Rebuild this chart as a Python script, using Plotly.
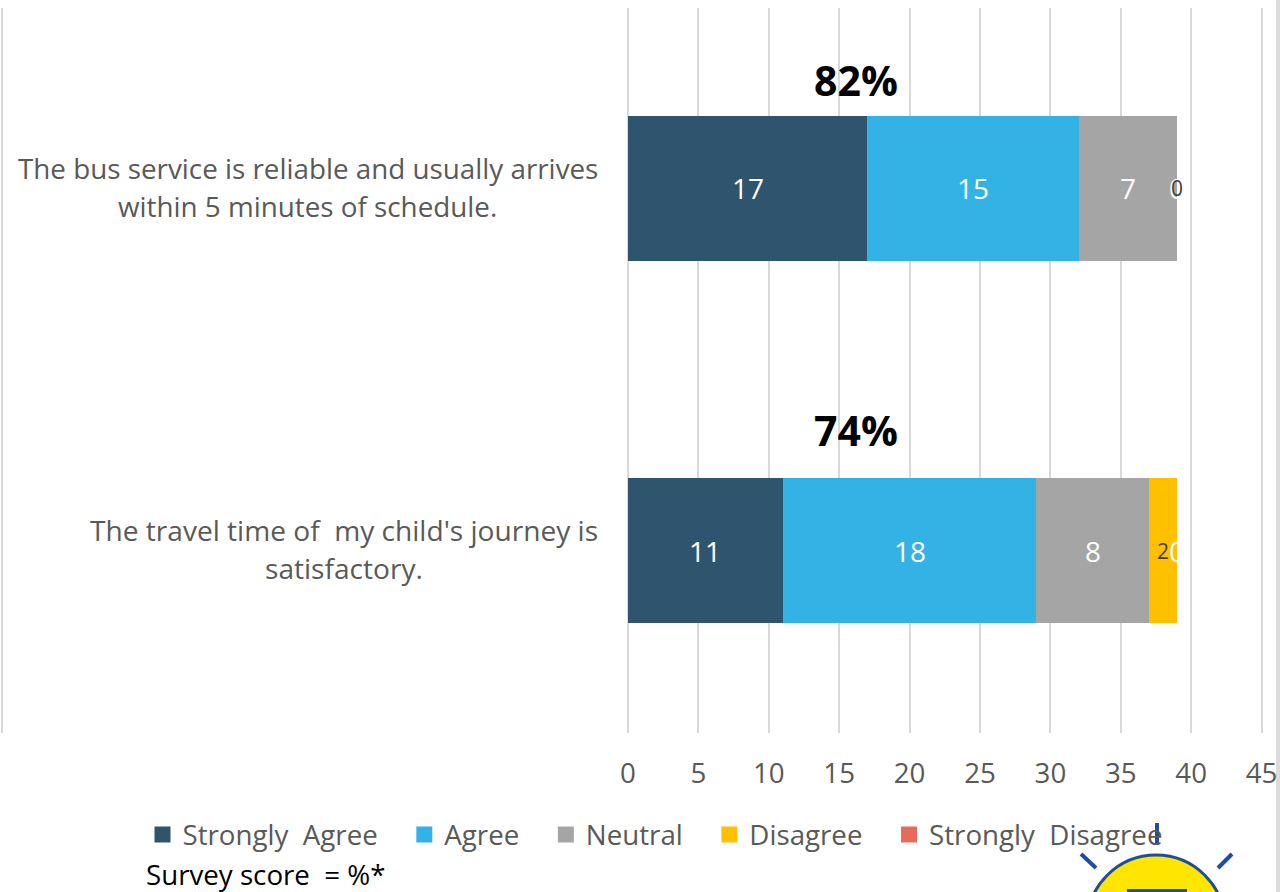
import plotly.graph_objects as go

W, H = 1280, 892
L, R, T, B = 0, 0, 8, 159

categories = [["The travel time of  my child's journey is", "satisfactory."],
              ["The bus service is reliable and usually arrives", "within 5 minutes of schedule."]]
series_names = ["Strongly  Agree", "Agree", "Neutral", "Disagree", "Strongly  Disagree"]
strongly_agree = [11, 17]
agree = [18, 15]
neutral = [8, 7]
disagree = [2, 0]
strongly_disagree = [0, 0]
score_labels = ["74%", "82%"]
colors = ["#2F546D", "#33B2E6", "#A5A5A5", "#FFC000", "#E76A5B"]
label_colors = ["#FFFFFF", "#FFFFFF", "#FFFFFF", "#404040", "#FFFFFF"]
tick_vals = [-44.46, 0, 5, 10, 15, 20, 25, 30, 35, 40, 45]
tick_text = ["50", "0", "5", "10", "15", "20", "25", "30", "35", "40", "45"]

FONT = "Open Sans"
GREY = "#595959"
SIZE = 27.7
series = [strongly_agree, agree, neutral, disagree, strongly_disagree]

fig = go.Figure()
for name, vals, col in zip(series_names, series, colors):
    fig.add_trace(go.Bar(name=name, y=[0, 1], x=vals, orientation="h", showlegend=False,
                         marker=dict(color=col, line=dict(width=0))))
# legend entries with the reference's larger square keys
for name, col in zip(series_names, colors):
    fig.add_trace(go.Scatter(name=name + "\u00a0\u00a0\u00a0", x=[None], y=[None], mode="markers",
                             marker=dict(symbol="square", size=16, color=col)))

annotations = []
# segment value labels: white zero first, dark smaller labels on top
for draw_small in (False, True):
    for row in range(2):
        base = 0
        for s, vals in enumerate(series):
            v = vals[row]
            small = s == 3
            if small == draw_small:
                annotations.append(dict(x=base + v / 2, y=row, xref="x", yref="y", text=str(v),
                                        showarrow=False, xanchor="center", yanchor="middle",
                                        font=dict(family=FONT, size=21 if small else 28, color=label_colors[s])))
            base += v

px = lambda x: (x - L) / (W - L - R)
py = lambda y: (H - B - y) / (H - T - B)

for row, (lines, cx, dy, fs) in enumerate(zip(categories, (343.5, 307.5), (2, 1), (28.1, 27.8))):
    for line, shift in zip(lines, (19, -19)):
        annotations.append(dict(x=px(cx), xref="paper", y=row, yref="y", text=line, showarrow=False,
                                align="center", xanchor="center", yanchor="middle", yshift=shift + dy,
                                font=dict(family=FONT, size=fs, color=GREY)))

for row, (s, shift) in enumerate(zip(score_labels, (121, 108))):
    annotations.append(dict(x=16.2, y=row, xref="x", yref="y", text=f"<b>{s}</b>", showarrow=False,
                            xanchor="center", yanchor="middle", yshift=shift,
                            font=dict(family=FONT, size=41, color="#000000")))

annotations.append(dict(x=px(143.5), y=py(874), xref="paper", yref="paper", text="Survey score  = %*",
                        showarrow=False, xanchor="left", yanchor="middle",
                        font=dict(family=FONT, size=SIZE, color="#000000")))

shapes = [
    dict(type="rect", xref="paper", yref="paper", x0=px(1276), x1=px(1281), y0=py(-2), y1=py(894),
         fillcolor="#DCDCDC", line=dict(width=0), layer="below"),
    dict(type="circle", xref="paper", yref="paper", x0=px(1087), x1=px(1225), y0=py(993), y1=py(855),
         fillcolor="#FFE600", line=dict(color="#1F4E9E", width=3)),
    dict(type="rect", xref="paper", yref="paper", x0=px(1127), x1=px(1187), y0=py(893), y1=py(889),
         fillcolor="#1F4E9E", line=dict(width=0)),
]
for x0, y0, x1, y1 in [(1157, 823, 1157, 845), (1081, 854, 1096, 868), (1232, 854, 1218, 868)]:
    shapes.append(dict(type="line", xref="paper", yref="paper", x0=px(x0), y0=py(y0), x1=px(x1), y1=py(y1),
                       line=dict(color="#1F4E9E", width=4)))

fig.update_layout(
    width=W, height=H, barmode="stack", bargap=0.6,
    margin=dict(l=L, r=R, t=T, b=B, pad=0),
    paper_bgcolor="#FFFFFF", plot_bgcolor="#FFFFFF",
    font=dict(family=FONT, size=SIZE, color=GREY),
    xaxis=dict(range=[-44.6, 46.307], tickmode="array", tickvals=tick_vals, ticktext=tick_text,
               showgrid=True, gridcolor="#D9D9D9", gridwidth=2, zeroline=True, zerolinecolor="#D9D9D9", zerolinewidth=2,
               showline=False, ticks="", ticklabelstandoff=21, tickfont=dict(family=FONT, size=SIZE, color=GREY)),
    yaxis=dict(range=[-0.5028, 1.4972], tickmode="array", tickvals=[], showgrid=False, zeroline=False, showticklabels=False),
    legend=dict(orientation="h", x=px(142.5), y=py(835), xanchor="left", yanchor="middle",
                font=dict(family=FONT, size=SIZE, color=GREY), traceorder="normal", bgcolor="rgba(0,0,0,0)"),
    annotations=annotations, shapes=shapes,
)
fig.write_html("out.html", config=dict(displayModeBar=False),
               post_script="document.body.style.margin='0';document.body.style.overflow='hidden';")
